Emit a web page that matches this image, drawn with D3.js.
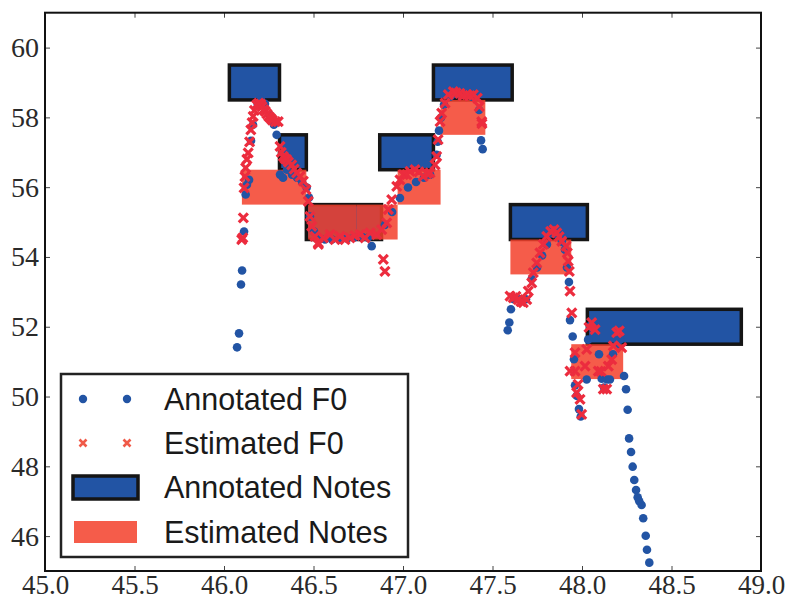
<!DOCTYPE html>
<html>
<head>
<meta charset="utf-8">
<script src="https://cdn.jsdelivr.net/npm/d3@7"></script>
<style>
  body { margin: 0; background: #fff; }
  svg { display: block; }
</style>
</head>
<body>
<svg id="chart"></svg>
<script>
// annotated notes: [start, end, pitch]
const annotatedNotes = [
  [46.03, 46.31, 59], [46.31, 46.46, 57], [46.46, 46.88, 55], [46.87, 47.17, 57],
  [47.17, 47.61, 59], [47.60, 48.03, 55], [48.03, 48.89, 52]
];
// estimated notes: [start, end, pitch]
const estimatedNotes = [
  [46.10, 46.46, 56], [46.47, 46.74, 55], [46.74, 46.97, 55], [46.97, 47.21, 56],
  [47.21, 47.46, 58], [47.60, 47.94, 54], [47.94, 48.23, 51]
];
// annotated F0: [time, pitch]
const annotatedF0 = [
  [46.073, 51.41], [46.084, 51.81], [46.095, 53.21], [46.101, 53.61], [46.112, 54.73],
  [46.121, 55.79], [46.128, 56.07], [46.140, 56.21], [46.151, 57.33], [46.162, 57.79],
  [46.188, 58.39], [46.207, 58.50], [46.229, 58.39], [46.257, 58.07], [46.279, 57.79],
  [46.294, 57.50], [46.313, 56.36], [46.330, 56.27], [46.352, 56.50], [46.380, 56.36],
  [46.408, 56.27], [46.436, 56.15], [46.462, 55.99], [46.475, 55.70], [46.480, 55.16],
  [46.503, 54.73], [46.525, 54.55], [46.564, 54.50], [46.603, 54.50], [46.648, 54.50],
  [46.687, 54.53], [46.726, 54.56], [46.771, 54.58], [46.804, 54.55], [46.825, 54.31],
  [46.899, 54.92], [46.939, 55.29], [46.983, 55.69], [47.028, 55.99], [47.073, 56.15],
  [47.117, 56.27], [47.151, 56.36], [47.188, 56.93], [47.194, 57.30], [47.201, 57.62],
  [47.212, 57.99], [47.229, 58.36], [47.263, 58.59], [47.307, 58.70], [47.352, 58.65],
  [47.385, 58.59], [47.425, 58.21], [47.436, 57.34], [47.445, 57.09],
  [47.585, 51.90], [47.594, 52.12], [47.603, 52.50], [47.620, 52.79], [47.654, 52.79],
  [47.687, 52.79], [47.719, 53.37], [47.749, 53.70], [47.777, 54.04], [47.804, 54.36],
  [47.838, 54.73], [47.866, 54.61], [47.888, 54.44], [47.905, 54.21], [47.916, 53.70],
  [47.927, 53.28], [47.933, 52.19], [47.948, 51.72], [47.955, 51.07], [47.961, 50.32],
  [47.970, 50.02], [47.983, 49.64], [47.993, 49.43], [48.026, 50.49], [48.034, 51.63],
  [48.045, 52.02], [48.067, 51.92], [48.095, 51.21], [48.110, 50.51], [48.123, 50.26],
  [48.140, 50.49], [48.156, 50.49], [48.173, 51.21], [48.196, 51.49], [48.212, 51.63],
  [48.235, 50.59], [48.246, 50.21], [48.255, 49.62], [48.263, 48.80], [48.274, 48.41],
  [48.283, 47.99], [48.292, 47.61], [48.302, 47.32], [48.311, 47.11], [48.320, 47.00],
  [48.333, 46.89], [48.342, 46.51], [48.356, 46.01], [48.363, 45.61], [48.376, 45.24]
];
// estimated F0: [time, pitch]
const estimatedF0 = [
  [46.099, 54.50], [46.105, 54.55], [46.108, 55.12], [46.112, 55.98], [46.117, 56.30],
  [46.121, 56.55], [46.128, 56.80], [46.135, 56.98], [46.143, 57.30], [46.150, 57.64],
  [46.157, 57.85], [46.163, 58.03], [46.170, 58.20], [46.182, 58.36], [46.194, 58.41],
  [46.205, 58.38], [46.212, 58.31], [46.222, 58.22], [46.231, 58.17], [46.240, 58.10],
  [46.250, 58.03], [46.260, 57.98], [46.270, 57.92], [46.287, 57.88], [46.303, 57.88],
  [46.313, 57.17], [46.320, 57.00], [46.331, 56.88], [46.340, 56.82], [46.350, 56.79],
  [46.360, 56.72], [46.378, 56.64], [46.392, 56.52], [46.406, 56.41], [46.425, 56.31],
  [46.443, 56.17], [46.458, 55.93], [46.471, 55.59], [46.480, 55.16], [46.490, 54.88],
  [46.508, 54.59], [46.527, 54.40], [46.527, 54.36], [46.555, 54.55], [46.592, 54.64],
  [46.620, 54.50], [46.648, 54.59], [46.676, 54.50], [46.704, 54.55], [46.732, 54.61],
  [46.760, 54.64], [46.788, 54.55], [46.816, 54.69], [46.853, 54.64], [46.881, 54.78],
  [46.890, 53.93], [46.899, 53.59], [46.909, 54.98], [46.918, 55.36], [46.937, 55.64],
  [46.965, 56.02], [46.983, 56.21], [47.002, 56.36], [47.021, 56.36], [47.039, 56.45],
  [47.067, 56.50], [47.089, 56.44], [47.113, 56.31], [47.134, 56.39], [47.151, 56.41],
  [47.179, 56.64], [47.188, 56.88], [47.196, 57.36], [47.207, 57.88], [47.216, 58.12],
  [47.235, 58.41], [47.253, 58.65], [47.281, 58.74], [47.296, 58.70], [47.318, 58.69],
  [47.335, 58.62], [47.356, 58.65], [47.374, 58.62], [47.393, 58.65], [47.415, 58.55],
  [47.426, 58.31], [47.440, 57.88], [47.441, 57.82],
  [47.598, 52.88], [47.616, 52.83], [47.631, 52.87], [47.644, 52.78], [47.659, 52.72],
  [47.672, 52.69], [47.691, 52.78], [47.700, 53.02], [47.719, 53.26], [47.728, 53.55],
  [47.747, 53.83], [47.765, 54.12], [47.784, 54.36], [47.803, 54.59], [47.825, 54.73],
  [47.844, 54.78], [47.859, 54.69], [47.872, 54.58], [47.887, 54.45], [47.911, 54.31],
  [47.918, 54.12], [47.923, 53.88], [47.929, 53.59], [47.933, 53.02], [47.943, 52.40],
  [47.961, 51.26], [47.961, 50.73], [47.933, 50.73], [47.970, 50.11], [47.978, 50.35],
  [47.989, 49.92], [47.998, 49.49], [48.017, 50.87], [48.026, 51.35], [48.039, 51.98],
  [48.054, 52.12], [48.073, 51.92], [48.091, 50.73], [48.106, 50.72], [48.119, 50.21],
  [48.138, 50.21], [48.147, 50.87], [48.166, 51.06], [48.175, 51.45], [48.194, 51.83],
  [48.208, 51.88], [48.222, 51.40]
];
const xTicks = [45.0, 45.5, 46.0, 46.5, 47.0, 47.5, 48.0, 48.5, 49.0];
const yTicks = [46, 48, 50, 52, 54, 56, 58, 60];
const legendLabels = ["Annotated F0", "Estimated F0", "Annotated Notes", "Estimated Notes"];

const W = 789, H = 600;
const plotLeft = 45, plotRight = 761, plotTop = 12.7, plotBottom = 571;
const blue = "#2254a4", red = "#ec2c3e", noteRed = "#f3402a";

const svg = d3.select("#chart").attr("width", W).attr("height", H);

const x = d3.scaleLinear().domain([45, 49]).range([plotLeft, plotRight]);
const y = d3.scaleLinear().domain([45, 61]).range([plotBottom, plotTop]);

// notes
svg.append("g").selectAll("rect")
  .data(annotatedNotes).enter().append("rect")
  .attr("x", d => x(d[0])).attr("width", d => x(d[1]) - x(d[0]))
  .attr("y", d => y(d[2] + 0.5)).attr("height", d => y(d[2] - 0.5) - y(d[2] + 0.5))
  .attr("fill", blue).attr("stroke", "#151515").attr("stroke-width", 3.5);

svg.append("g").selectAll("rect")
  .data(estimatedNotes).enter().append("rect")
  .attr("x", d => x(d[0])).attr("width", d => x(d[1]) - x(d[0]))
  .attr("y", d => y(d[2] + 0.5)).attr("height", d => y(d[2] - 0.5) - y(d[2] + 0.5))
  .attr("fill", noteRed).attr("fill-opacity", 0.85);

// F0 points
svg.append("g").selectAll("circle")
  .data(annotatedF0).enter().append("circle")
  .attr("cx", d => x(d[0])).attr("cy", d => y(d[1])).attr("r", 4.3)
  .attr("fill", blue);

const cross = "M-4.5,-4.5L4.5,4.5M-4.5,4.5L4.5,-4.5";
svg.append("g").selectAll("path")
  .data(estimatedF0).enter().append("path")
  .attr("d", cross)
  .attr("transform", d => `translate(${x(d[0])},${y(d[1])})`)
  .attr("stroke", red).attr("stroke-width", 3.2).attr("fill", "none");

// axes, ticks pointing inward
const tickFont = "'Liberation Serif', 'DejaVu Serif', serif";
const gx = svg.append("g").attr("transform", `translate(0,${plotBottom})`)
  .call(d3.axisBottom(x).tickValues(xTicks).tickFormat(d3.format(".1f")).tickSize(-5).tickPadding(4));
const gy = svg.append("g").attr("transform", `translate(${plotLeft},0)`)
  .call(d3.axisLeft(y).tickValues(yTicks).tickSize(-5).tickPadding(6));
svg.append("g").attr("transform", `translate(0,${plotTop})`)
  .call(d3.axisTop(x).tickValues(xTicks).tickFormat("").tickSize(-5));
svg.append("g").attr("transform", `translate(${plotRight},0)`)
  .call(d3.axisRight(y).tickValues(yTicks).tickFormat("").tickSize(-5));

svg.selectAll(".domain").remove();
svg.selectAll(".tick line").attr("stroke", "#444");
gx.selectAll("text").attr("font-family", tickFont).attr("font-size", 27).attr("fill", "#2a2a2a");
gy.selectAll("text").attr("font-family", tickFont).attr("font-size", 28).attr("fill", "#2a2a2a");

svg.append("rect")
  .attr("x", plotLeft).attr("y", plotTop)
  .attr("width", plotRight - plotLeft).attr("height", plotBottom - plotTop)
  .attr("fill", "none").attr("stroke", "#111").attr("stroke-width", 2);

// legend
const lg = svg.append("g");
lg.append("rect").attr("x", 61).attr("y", 374).attr("width", 347).attr("height", 183)
  .attr("fill", "#fff").attr("stroke", "#222").attr("stroke-width", 2.5);

const rowY = [399, 443, 487, 532];
lg.selectAll("text").data(legendLabels).enter().append("text")
  .attr("x", 164).attr("y", (d, i) => rowY[i]).attr("dy", "0.36em")
  .attr("font-family", "'Liberation Sans', Arial, sans-serif").attr("font-size", 30.5)
  .attr("fill", "#1a1a1a").text(d => d);

[83, 127].forEach(px => {
  lg.append("circle").attr("cx", px).attr("cy", rowY[0]).attr("r", 4.2).attr("fill", blue);
  lg.append("path").attr("d", "M-3.5,-3.5L3.5,3.5M-3.5,3.5L3.5,-3.5")
    .attr("transform", `translate(${px},${rowY[1]})`)
    .attr("stroke", "#f05a48").attr("stroke-width", 2.6);
});
lg.append("rect").attr("x", 73).attr("y", 476).attr("width", 65).attr("height", 23)
  .attr("fill", blue).attr("stroke", "#151515").attr("stroke-width", 3.5);
lg.append("rect").attr("x", 74).attr("y", 521).attr("width", 63).attr("height", 22)
  .attr("fill", noteRed).attr("fill-opacity", 0.85);
</script>
</body>
</html>
